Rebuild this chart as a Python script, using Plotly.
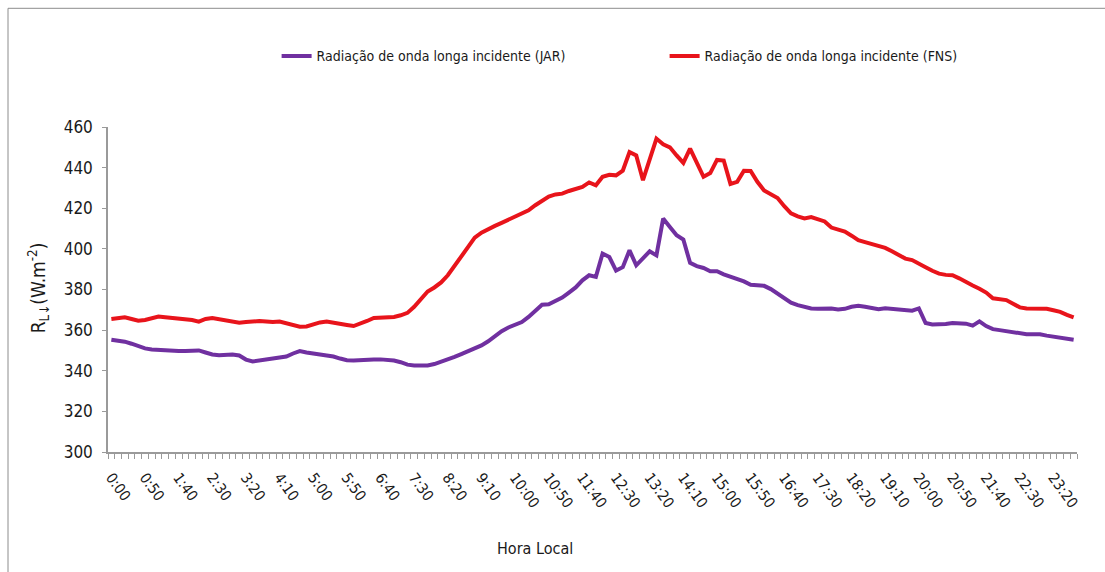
import plotly.graph_objects as go

# 10-minute time steps over one day
times = [f"{m // 60}:{m % 60:02d}" for m in range(0, 24 * 60, 10)]

# Incoming long-wave radiation (W m-2), station JAR
jar = [
    355.3, 355.0, 354.3, 353.3, 352.0, 351.0, 350.5, 350.2, 350.0, 349.8,
    349.7, 349.7, 349.8, 350.0, 349.0, 348.0, 347.6, 347.8, 348.0, 347.5,
    345.5, 344.6, 345.0, 345.6, 346.0, 346.3, 347.0, 348.5, 349.7, 349.0,
    348.3, 348.0, 347.5, 347.0, 346.0, 345.2, 345.0, 345.3, 345.6, 345.6,
    345.6, 345.5, 345.0, 344.2, 343.0, 342.6, 342.5, 342.6, 343.3, 344.3,
    345.5, 346.8, 348.2, 349.5, 351.0, 352.5, 354.5, 357.0, 359.5, 361.3,
    362.5, 364.0, 366.5, 369.5, 372.5, 372.7, 374.5, 376.0, 378.5, 381.0,
    384.5, 387.0, 386.2, 397.7, 396.0, 389.3, 391.0, 399.3, 391.9, 395.5,
    398.8, 396.8, 414.9, 410.8, 406.7, 404.6, 393.1, 391.5, 390.6, 389.0,
    389.0, 387.5, 386.5, 385.2, 384.0, 382.3, 382.0, 381.8, 380.2, 378.0,
    375.5, 373.5, 372.3, 371.5, 370.7, 370.5, 370.6, 370.6, 370.2, 370.5,
    371.5, 372.0, 371.5, 370.8, 370.3, 370.8, 370.6, 370.2, 370.0, 369.6,
    370.7, 363.5, 362.8, 362.8, 363.0, 363.5, 363.3, 363.2, 362.2, 364.3,
    362.0, 360.5, 360.0, 359.5, 358.8, 358.2, 358.0, 358.0, 358.0, 357.3,
    356.8, 356.3, 355.7, 355.3,
]

# Incoming long-wave radiation (W m-2), station FNS
fns = [
    365.5, 366.0, 366.3, 365.5, 364.6, 365.0, 366.0, 366.7, 366.3, 366.0,
    365.8, 365.6, 365.0, 364.2, 365.5, 366.0, 365.5, 365.0, 364.3, 363.6,
    364.0, 364.4, 364.5, 364.3, 364.0, 364.2, 363.5, 362.5, 361.7, 361.8,
    362.8, 363.8, 364.2, 363.8, 363.0, 362.5, 362.0, 363.0, 364.5, 366.0,
    366.1, 366.0, 366.5, 367.3, 368.5, 371.5, 375.5, 379.0, 381.0, 383.5,
    387.0, 391.5, 396.0, 401.0, 405.5, 408.0, 409.8, 411.3, 412.8, 414.3,
    416.0, 417.5, 419.0, 421.5, 423.5, 425.8, 426.8, 427.2, 428.5, 429.7,
    430.5, 432.7, 431.3, 435.5, 436.5, 436.2, 438.5, 447.7, 446.0, 433.8,
    444.0, 454.3, 451.5, 450.0, 446.0, 442.3, 449.4, 442.0, 435.5, 437.3,
    443.8, 443.5, 432.0, 433.0, 438.5, 438.4, 433.0, 428.8, 427.0, 425.0,
    421.0, 417.5, 416.0, 415.0, 415.7, 414.5, 413.5, 410.5, 409.5, 408.5,
    406.5, 404.3, 403.3, 402.5, 401.7, 400.5, 398.8, 397.0, 395.2, 394.5,
    393.0, 391.0, 389.2, 387.8, 387.2, 387.0, 385.5, 383.5, 382.0, 380.4,
    378.5, 375.7, 375.2, 374.8, 373.0, 371.2, 370.6, 370.6, 370.6, 370.5,
    369.8, 369.0, 367.5, 366.3,
]

# every fifth time step is labelled
label_idx = list(range(0, len(times), 5))
label_txt = [times[i] for i in label_idx]

y_ticks = list(range(300, 461, 20))

FONT = "Liberation Sans Narrow, DejaVu Sans Condensed, Roboto, sans-serif"
AXIS_GREY = "#9a9a9a"

x = list(range(len(times)))

fig = go.Figure()
fig.add_trace(go.Scatter(
    x=x, y=jar, mode="lines", name="Radiação de onda longa incidente (JAR)",
    line=dict(color="#7030A0", width=4),
))
fig.add_trace(go.Scatter(
    x=x, y=fns, mode="lines", name="Radiação de onda longa incidente (FNS)",
    line=dict(color="#E8141B", width=4),
))

fig.update_layout(
    width=1105, height=572,
    margin=dict(l=108, r=28, t=127, b=120),
    paper_bgcolor="white", plot_bgcolor="white",
    font=dict(family=FONT, color="#1a1a1a"),
    showlegend=True,
    legend=dict(
        orientation="h", x=0.174, y=1.2175, xanchor="left", yanchor="middle",
        font=dict(size=14, family=FONT), entrywidth=343, itemwidth=30,
        bgcolor="rgba(0,0,0,0)",
    ),
    xaxis=dict(
        range=[-0.5, len(times) - 0.5],
        tickmode="array", tickvals=label_idx, ticktext=label_txt,
        tickangle=54, tickfont=dict(size=15, family=FONT),
        ticks="", showgrid=False, zeroline=False, ticklabelstandoff=9,
        showline=True, linecolor=AXIS_GREY, linewidth=1.5,
        minor=dict(ticks="outside", tick0=-0.5, dtick=1, ticklen=5,
                   tickcolor=AXIS_GREY, showgrid=False),
    ),
    yaxis=dict(
        range=[300, 460], tickmode="array", tickvals=y_ticks,
        tickfont=dict(size=17, family=FONT),
        ticks="outside", ticklen=4, tickcolor=AXIS_GREY,
        showgrid=False, zeroline=False,
        showline=True, linecolor=AXIS_GREY, linewidth=1.5,
        ticklabelstandoff=6,
    ),
    annotations=[
        dict(text="Hora Local", xref="paper", yref="paper",
             x=(535 - 108) / 969, y=(451.7 - 548) / 325,
             xanchor="center", yanchor="middle", showarrow=False,
             font=dict(size=16, family=FONT)),
        dict(text="R<sub>L↓</sub>(W.m<sup>-2</sup>)", xref="paper", yref="paper",
             x=(38 - 108) / 969, y=(451.7 - 288) / 325, textangle=-90,
             xanchor="center", yanchor="middle", showarrow=False,
             font=dict(size=19, family=FONT)),
    ],
    shapes=[
        dict(type="rect", xref="paper", yref="paper",
             x0=(8 - 108) / 969, x1=(1120 - 108) / 969,
             y0=(451.7 - 590) / 325, y1=(451.7 - 8) / 325,
             line=dict(color="#8c8c8c", width=1), fillcolor="rgba(0,0,0,0)",
             layer="below"),
    ],
)

fig.write_html("out.html")
